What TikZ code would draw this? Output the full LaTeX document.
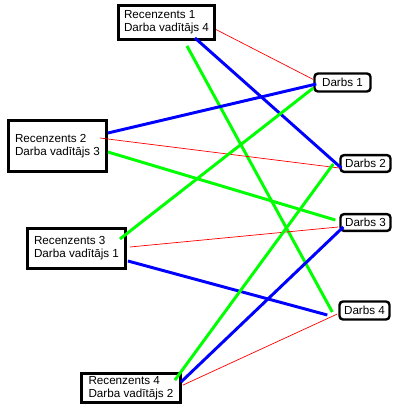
\documentclass[tikz,border=0pt]{standalone}
\usepackage{fontspec}
\setmainfont{Liberation Sans}
\usetikzlibrary{calc}

\begin{document}
\begin{tikzpicture}[x=0.025cm, y=-0.025cm,
		rbox/.style={draw=black, line width=2pt, fill=white, align=left, inner sep=0pt,
			font=\fontsize{8.3}{9.3}\selectfont},
		dbox/.style={draw=black, line width=1.7pt, fill=white, rounded corners=2.5pt, inner sep=0pt,
			font=\fontsize{8.3}{9.3}\selectfont},
		blueline/.style={blue, line width=2.1pt},
		greenline/.style={green, line width=2.1pt},
		redline/.style={red, line width=0.5pt}]
		\useasboundingbox (0,0) rectangle (400,412);

		% Reviewers (left)
		\node[rbox, minimum width=2.4cm, minimum height=0.85cm] (r1) at (166.5,22.5) {Recenzents 1\\Darba vadītājs 4};
		\node[rbox, minimum width=2.45cm, minimum height=1.275cm] (r2) at (57.5,146) {Recenzents 2\\Darba vadītājs 3};
		\node[rbox, minimum width=2.45cm, minimum height=1.0cm] (r3) at (76.5,248.5) {Recenzents 3\\Darba vadītājs 1};
		\node[rbox, minimum width=2.475cm, minimum height=0.725cm] (r4) at (131,388) {Recenzents 4\\Darba vadītājs 2};

		% Works (right)
		\node[dbox, minimum width=1.4cm, minimum height=0.45cm] (d1) at (342.5,82.5) {Darbs 1};
		\node[dbox, minimum width=1.25cm, minimum height=0.42cm] (d2) at (365.5,163.5) {Darbs 2};
		\node[dbox, minimum width=1.25cm, minimum height=0.42cm] (d3) at (365.5,222.5) {Darbs 3};
		\node[dbox, minimum width=1.25cm, minimum height=0.45cm] (d4) at (364.5,310.5) {Darbs 4};

		% Recenzents 1
		\draw[redline] ($(r1.east)+(0,7)$) -- ($(d1.west)+(0,-3)$);
		\draw[blueline] ($(r1.south east)+(-21,-3)$) -- ($(d2.west)+(2,4.5)$);
		\draw[greenline] ($(r1.south east)+(-29,5)$) -- ($(d4.west)+(-6,1.5)$);

		% Recenzents 2
		\draw[blueline] ($(r2.east)+(0,-13)$) -- ($(d1.west)+(3,1.5)$);
		\draw[redline] ($(r2.east)+(-8,-8)$) -- ($(d2.west)+(0,4.5)$);
		\draw[greenline] ($(r2.east)+(0,6)$) -- ($(d3.west)+(-4,-2.5)$);

		% Recenzents 3
		\draw[greenline] ($(r3.east)+(-7,-9.5)$) -- ($(d1.west)+(0,5.5)$);
		\draw[redline] ($(r3.east)+(3,-1.5)$) -- ($(d3.west)+(-1,4.5)$);
		\draw[blueline] ($(r3.east)+(1,12.5)$) -- ($(d4.west)+(-11,4.5)$);

		% Recenzents 4
		\draw[greenline] ($(r4.north east)+(-7,8)$) -- ($(d2.west)+(-6,0.5)$);
		\draw[blueline] ($(r4.north east)+(-1,10)$) -- ($(d3.west)+(4,4.5)$);
		\draw[redline] ($(r4.north east)+(1,13)$) -- ($(d4.west)+(-1,3.5)$);
	\end{tikzpicture}
\end{document}
